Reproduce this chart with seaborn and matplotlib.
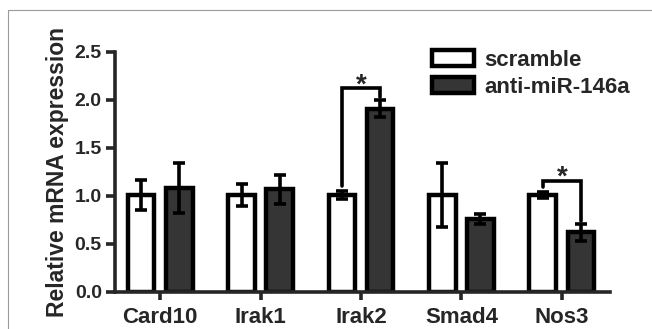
import numpy as np
import pandas as pd
import matplotlib
matplotlib.use('Agg')
import matplotlib.pyplot as plt
import seaborn as sns
from matplotlib.lines import Line2D

# data
genes = ['Card10', 'Irak1', 'Irak2', 'Smad4', 'Nos3']
groups = ['scramble', 'anti-miR-146a']
scramble_mean = [1.01, 1.01, 1.01, 1.01, 1.01]
scramble_sd = [0.16, 0.11, 0.04, 0.33, 0.03]
anti_mean = [1.08, 1.07, 1.91, 0.76, 0.62]
anti_sd = [0.26, 0.15, 0.09, 0.05, 0.09]
sig_genes = ['Irak2', 'Nos3']
yticks = [0.0, 0.5, 1.0, 1.5, 2.0, 2.5]

colors = {'scramble': 'white', 'anti-miR-146a': '#353535'}

sns.set_style('ticks')
plt.rcParams['font.family'] = ['Liberation Sans', 'DejaVu Sans']
plt.rcParams['font.weight'] = 'bold'
plt.rcParams['axes.labelweight'] = 'bold'

df = pd.DataFrame({
    'gene': genes * 2,
    'group': [groups[0]] * len(genes) + [groups[1]] * len(genes),
    'value': scramble_mean + anti_mean,
    'sd': scramble_sd + anti_sd,
})

fig = plt.figure(figsize=(6.52, 3.29), dpi=100)
ax = fig.add_axes([115 / 652, 1 - 292 / 329, 495 / 652, 240 / 329])

sns.barplot(data=df, x='gene', y='value', hue='group', order=genes, hue_order=groups,
            palette=colors, saturation=1, width=0.76, gap=0.3, errorbar=None,
            edgecolor='black', linewidth=3.2, ax=ax)

lw = 2.6
# error bars + remember bar centres
centers = {}
for bars, g in zip(ax.containers, groups):
    sub = df[df['group'] == g].set_index('gene').loc[genes]
    xs = [b.get_x() + b.get_width() / 2 for b in bars]
    for gene, x in zip(genes, xs):
        centers[(gene, g)] = x
    ax.errorbar(xs, sub['value'], yerr=sub['sd'], fmt='none', ecolor='black',
                elinewidth=lw, capsize=4.6, capthick=lw, zorder=5)

# significance brackets
for gene in sig_genes:
    i = genes.index(gene)
    x1, x2 = centers[(gene, groups[0])], centers[(gene, groups[1])]
    t1 = scramble_mean[i] + scramble_sd[i]
    t2 = anti_mean[i] + anti_sd[i]
    top = max(t1, t2) + 0.12
    ax.plot([x1, x1, x2, x2], [t1 + 0.05, top, top, t2 + 0.03], color='black', lw=lw,
            clip_on=False, solid_joinstyle='miter', zorder=6)
    ax.text((x1 + x2) / 2, top + 0.03, '*', ha='center', va='center', fontsize=20,
            fontweight='bold')

ax.set_ylim(0, 2.5)
ax.set_xlim(-0.45, 4.48)
ax.set_yticks(yticks)
ax.set_yticklabels([f'{v:.1f}' for v in yticks])
ax.set_xlabel('')
ax.set_ylabel('Relative mRNA expression', fontsize=16.5, fontweight='bold', labelpad=4)
sns.despine(ax=ax)
for s in ['left', 'bottom']:
    ax.spines[s].set_linewidth(lw)
ax.tick_params(axis='y', width=lw, length=6.5, labelsize=14, pad=3)
ax.tick_params(axis='x', width=lw, length=6, labelsize=16, pad=5)

handles, labels = ax.get_legend_handles_labels()
ax.legend(handles, labels, loc='upper left', bbox_to_anchor=(432 / 652, 1 - 50 / 329),
          bbox_transform=fig.transFigure, frameon=False, fontsize=16,
          handlelength=1.9, handleheight=0.7, handletextpad=0.45, labelspacing=0.25,
          borderpad=0, borderaxespad=0)

# thin grey frame seen on the top and left of the image
fig.add_artist(Line2D([8 / 652, 8 / 652], [0, 1 - 10 / 329], transform=fig.transFigure,
                      color='#9a9a9a', lw=0.8))
fig.add_artist(Line2D([8 / 652, 1], [1 - 10 / 329, 1 - 10 / 329], transform=fig.transFigure,
                      color='#9a9a9a', lw=0.8))

fig.savefig('out.png', dpi=100)
